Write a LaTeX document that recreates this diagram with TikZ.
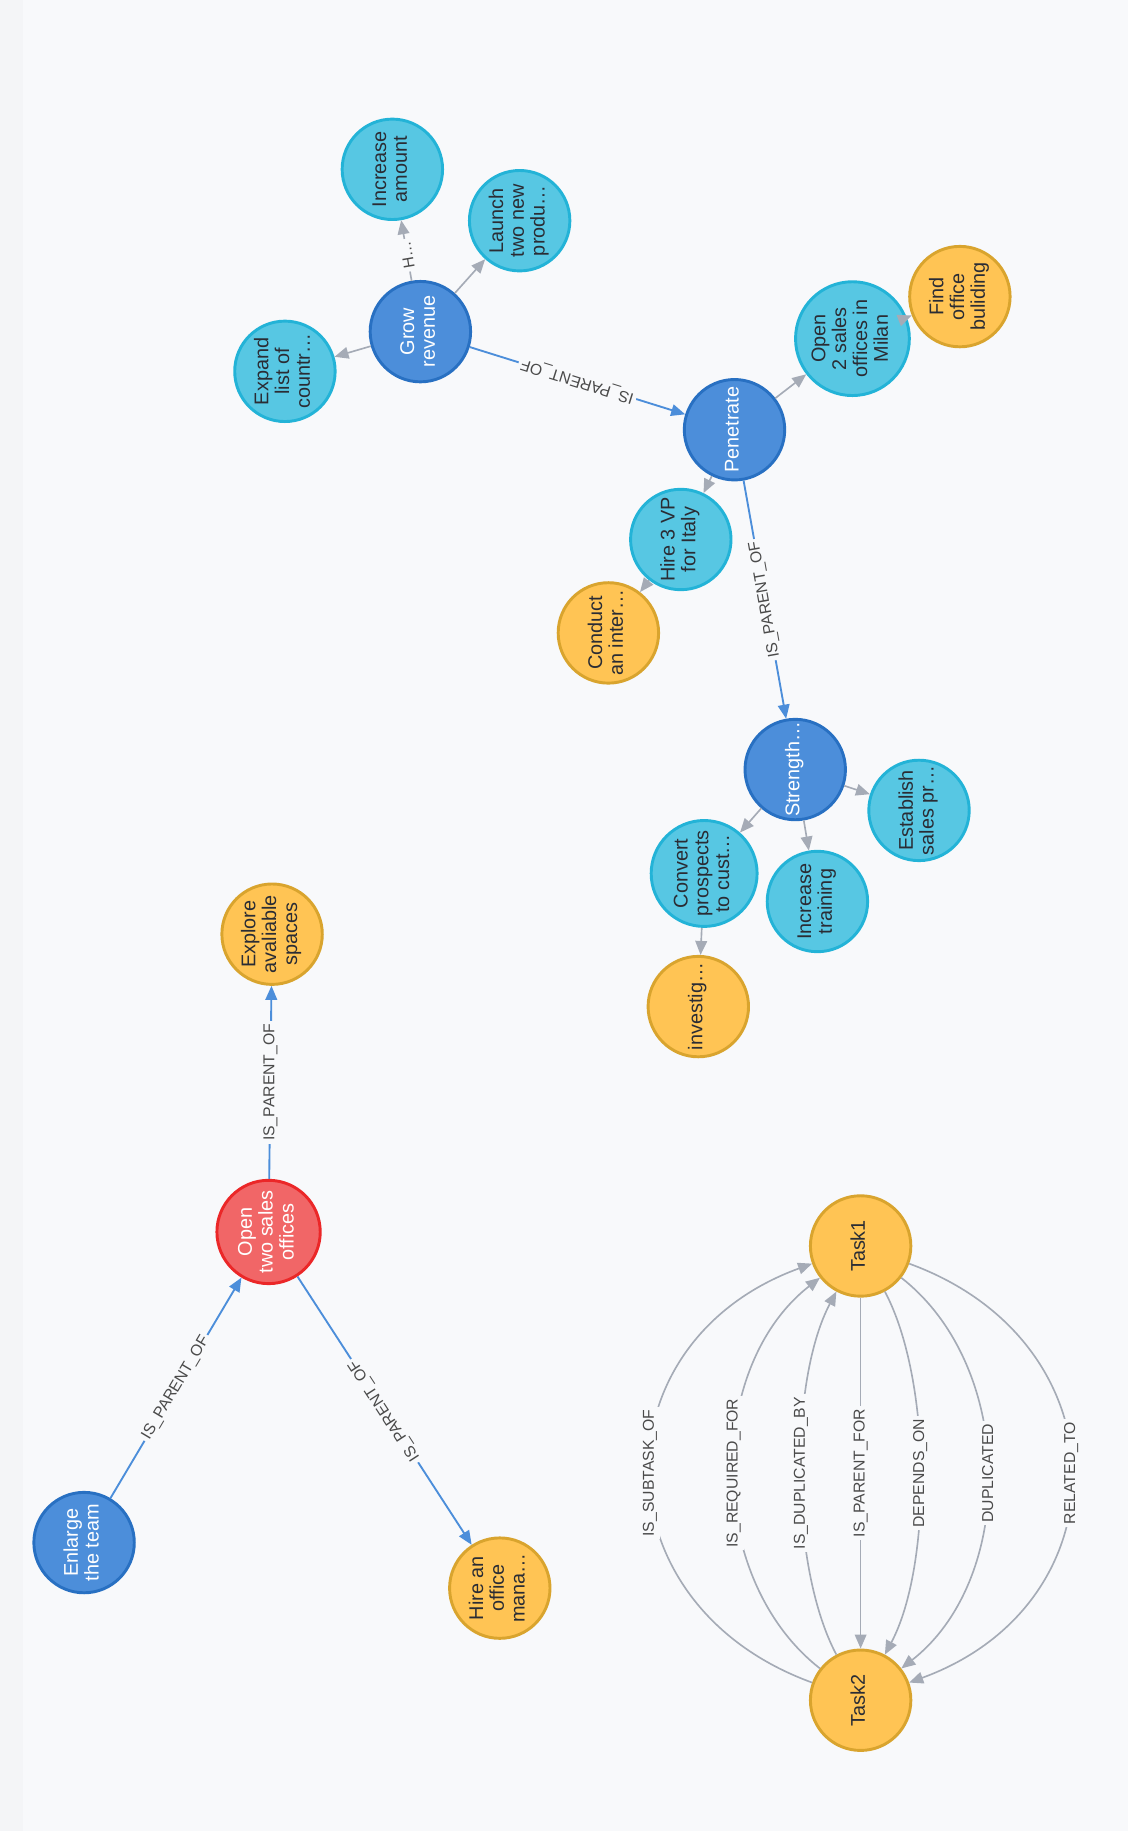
\documentclass[tikz,border=0pt]{standalone}
\usepackage{fontspec}
\setmainfont{Liberation Sans}
\usetikzlibrary{arrows.meta}
\definecolor{bg}{HTML}{F8F9FB}
\definecolor{bgstrip}{HTML}{F4F5F7}
\definecolor{blueF}{HTML}{4C8EDA}
\definecolor{blueB}{HTML}{2870C2}
\definecolor{cyanF}{HTML}{57C7E3}
\definecolor{cyanB}{HTML}{23B3D7}
\definecolor{yelF}{HTML}{FFC454}
\definecolor{yelB}{HTML}{D9A42E}
\definecolor{redF}{HTML}{F16667}
\definecolor{redB}{HTML}{EB2728}
\definecolor{relG}{HTML}{A5ABB6}
\definecolor{relB}{HTML}{4C8EDA}
\definecolor{txt}{HTML}{2A2C34}
\definecolor{labT}{HTML}{4A4A4A}
\newcommand\rtxt[1]{\rotatebox{90}{\begin{tabular}{@{}c@{}}#1\end{tabular}}}
\tikzset{
  gnode/.style={circle, minimum size=86pt, inner sep=0pt, line width=2.5pt, font=\fontsize{17}{17.8}\selectfont},
  nblue/.style={gnode, fill=blueF, draw=blueB, text=white},
  ncyan/.style={gnode, fill=cyanF, draw=cyanB, text=txt},
  nyel/.style={gnode, fill=yelF, draw=yelB, text=txt},
  nred/.style={gnode, fill=redF, draw=redB, text=white},
  grel/.style={draw=relG, line width=1.4pt, -{Triangle[length=12pt,width=10pt]}},
  brel/.style={draw=relB, line width=1.6pt, -{Triangle[length=12pt,width=10pt]}},
  rlab/.style={fill=bg, inner sep=2.5pt, text=labT, font=\fontsize{13.5}{14}\selectfont},
}
\begin{document}
\begin{tikzpicture}[x=1pt,y=1pt]
\useasboundingbox (0,0) rectangle (966,-1568);
\fill[bg] (0,0) rectangle (966,-1568);
\fill[bgstrip] (0,0) rectangle (20,-1568);

% nodes
\node[ncyan] (inc)   at (336,-145)  {\rtxt{Increase\\amount}};
\node[ncyan] (lau)   at (445,-189)  {\rtxt{Launch\\two new\\produ…}};
\node[nblue] (grow)  at (360,-284)  {\rtxt{Grow\\revenue}};
\node[ncyan] (exp)   at (244,-318)  {\rtxt{Expand\\list of\\countr…}};
\node[nblue] (pen)   at (629,-368)  {\rtxt{Penetrate}};
\node[ncyan] (milan) at (730,-290)  {\rtxt{Open\\2 sales\\offices in\\Milan}};
\node[nyel]  (find)  at (822,-254)  {\rtxt{Find\\office\\buliding}};
\node[ncyan] (vp)    at (583,-462)  {\rtxt{Hire 3 VP\\for Italy}};
\node[nyel]  (cond)  at (521,-542)  {\rtxt{Conduct\\an inter…}};
\node[nblue] (str)   at (681,-659)  {\rtxt{Strength…}};
\node[ncyan] (est)   at (787,-694)  {\rtxt{Establish\\sales pr…}};
\node[ncyan] (conv)  at (603,-748)  {\rtxt{Convert\\prospects\\to cust…}};
\node[ncyan] (itr)   at (700,-772)  {\rtxt{Increase\\training}};
\node[nyel]  (inv)   at (598,-862)  {\rtxt{investig…}};
\node[nyel]  (expl)  at (233,-800)  {\rtxt{Explore\\avaliable\\spaces}};
\node[nred]  (open)  at (230,-1055) {\rtxt{Open\\two sales\\offices}};
\node[nblue] (enl)   at (72,-1321)  {\rtxt{Enlarge\\the team}};
\node[nyel]  (hoff)  at (428,-1360) {\rtxt{Hire an\\office\\mana…}};
\node[nyel]  (t1)    at (737,-1067) {\rtxt{Task1}};
\node[nyel]  (t2)    at (737,-1456) {\rtxt{Task2}};

% gray relationships
\draw[grel] (grow) -- node[rlab, rotate=99.8, pos=0.42] {H…} (inc);
\draw[grel] (grow) -- (lau);
\draw[grel] (grow) -- (exp);
\draw[grel] (pen) -- (milan);
\draw[grel] (milan) -- (find);
\draw[grel] (pen) -- (vp);
\draw[grel] (vp) -- (cond);
\draw[grel] (str) -- (est);
\draw[grel] (str) -- (conv);
\draw[grel] (str) -- (itr);
\draw[grel] (conv) -- (inv);

% blue relationships
\draw[brel] (grow) -- node[rlab, rotate=162.7] {IS\_PARENT\_OF} (pen);
\draw[brel] (pen) -- node[rlab, rotate=100.1] {IS\_PARENT\_OF} (str);
\draw[brel] (enl) -- node[rlab, rotate=59.3] {IS\_PARENT\_OF} (open);
\draw[brel] (open) -- node[rlab, rotate=90] {IS\_PARENT\_OF} (expl);
\draw[brel] (open) -- node[rlab, rotate=123] {IS\_PARENT\_OF} (hoff);

% Task1 / Task2 relationships
\draw[grel] (t2.160) .. controls +(-185.1,67.4) and +(-185.1,-67.4) .. (t1.200) node[rlab, pos=0.5, rotate=90] {IS\_SUBTASK\_OF};
\draw[grel] (t2.142) .. controls +(-98.5,77.0) and +(-98.5,-77.0) .. (t1.218) node[rlab, pos=0.5, rotate=90] {IS\_REQUIRED\_FOR};
\draw[grel] (t2.118) .. controls +(-40.4,75.9) and +(-40.4,-75.9) .. (t1.242) node[rlab, pos=0.5, rotate=90] {IS\_DUPLICATED\_BY};
\draw[grel] (t1) -- node[rlab, rotate=90] {IS\_PARENT\_FOR} (t2);
\draw[grel] (t1.298) .. controls +(40.4,-75.9) and +(40.4,75.9) .. (t2.62) node[rlab, pos=0.5, rotate=90] {DEPENDS\_ON};
\draw[grel] (t1.322) .. controls +(98.5,-77.0) and +(98.5,77.0) .. (t2.38) node[rlab, pos=0.5, rotate=90] {DUPLICATED};
\draw[grel] (t1.340) .. controls +(185.1,-67.4) and +(185.1,67.4) .. (t2.20) node[rlab, pos=0.5, rotate=90] {RELATED\_TO};
\end{tikzpicture}
\end{document}
